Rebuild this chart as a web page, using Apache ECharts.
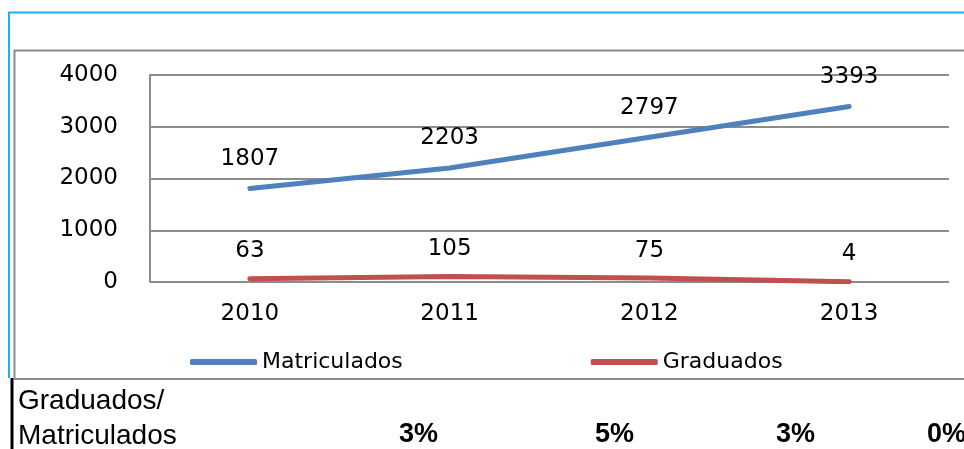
<!DOCTYPE html>
<html>
<head>
<meta charset="utf-8">
<style>
  html, body { margin: 0; padding: 0; background: #fff; }
  #chart { width: 964px; height: 449px; }
</style>
<script src="https://cdn.jsdelivr.net/npm/echarts@6/dist/echarts.min.js"></script>
</head>
<body>
<div id="chart"></div>
<script>
const years = ['2010', '2011', '2012', '2013']
const matriculados = [1807, 2203, 2797, 3393]
const graduados = [63, 105, 75, 4]
const ratioLabels = ['3%', '5%', '3%', '0%']
const ratioRight = [438, 634, 815, 966]

const chart = echarts.init(document.getElementById('chart'))

const labelFont = 'DejaVu Sans, Verdana, sans-serif'
const gridColor = '#8c8c8c'
const tableFont = '"Liberation Sans", Arial, sans-serif'

const option = {
  animation: false,
  backgroundColor: '#fff',
  grid: { left: 150, right: 15, top: 75, bottom: 167 },
  legend: {
    data: ['Matriculados', 'Graduados'],
    left: 185,
    top: 346,
    icon: 'roundRect',
    itemWidth: 67,
    itemHeight: 6,
    itemGap: 188,
    textStyle: { fontFamily: labelFont, fontSize: 22, color: '#000' }
  },
  xAxis: {
    type: 'category',
    data: years,
    axisLine: { show: false },
    axisTick: { show: false },
    axisLabel: { fontFamily: labelFont, fontSize: 23, color: '#000', margin: 21 }
  },
  yAxis: {
    type: 'value',
    min: 0,
    max: 4000,
    interval: 1000,
    axisLine: { show: true, lineStyle: { color: gridColor, width: 2 } },
    axisTick: { show: false },
    axisLabel: {
      fontFamily: labelFont, fontSize: 23, color: '#000', margin: 32,
      formatter: v => String(v)
    },
    splitLine: { lineStyle: { color: gridColor, width: 2 } }
  },
  series: [
    {
      name: 'Matriculados',
      type: 'line',
      data: matriculados,
      symbol: 'circle',
      symbolSize: 0,
      itemStyle: { color: '#4f81bd' },
      lineStyle: { width: 5, color: '#4f81bd', cap: 'round' },
      label: {
        show: true, position: 'top', distance: 18,
        fontFamily: labelFont, fontSize: 23, color: '#000'
      }
    },
    {
      name: 'Graduados',
      type: 'line',
      data: graduados,
      symbol: 'circle',
      symbolSize: 0,
      itemStyle: { color: '#c0504d' },
      lineStyle: { width: 5, color: '#c0504d', cap: 'round' },
      label: {
        show: true, position: 'top', distance: 16,
        fontFamily: labelFont, fontSize: 23, color: '#000'
      }
    }
  ],
  graphic: [
    // outer cyan frame
    { type: 'polyline', shape: { points: [[9, 378], [9, 12.5], [970, 12.5]] },
      style: { stroke: '#17b3ef', lineWidth: 2, fill: null } },
    // gray chart-area frame
    { type: 'polyline', shape: { points: [[970, 50.5], [14.5, 50.5], [14.5, 379], [970, 379]] },
      style: { stroke: gridColor, lineWidth: 2, fill: null } },
    // black table edge
    { type: 'line', shape: { x1: 12, y1: 378, x2: 12, y2: 449 },
      style: { stroke: '#000', lineWidth: 3 } },
    { type: 'text', left: 18, top: 387,
      style: { text: 'Graduados/', font: '28px ' + tableFont, fill: '#000' } },
    { type: 'text', left: 18, top: 422,
      style: { text: 'Matriculados', font: '28px ' + tableFont, fill: '#000' } }
  ].concat(ratioLabels.map((t, i) => ({
    type: 'text', x: ratioRight[i], y: 448,
    style: {
      text: t, font: 'bold 27px ' + tableFont, fill: '#000',
      align: 'right', verticalAlign: 'bottom'
    }
  })))
}

chart.setOption(option)
</script>
</body>
</html>
